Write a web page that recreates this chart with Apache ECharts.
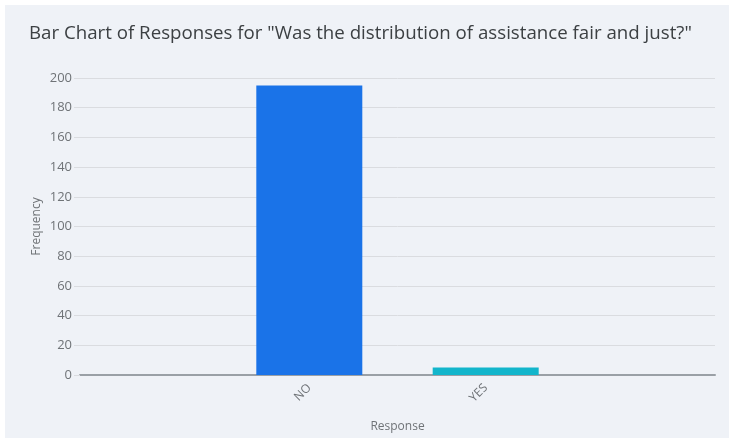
<!DOCTYPE html>
<html>
<head>
<meta charset="utf-8">
<script src="https://cdn.jsdelivr.net/npm/echarts@6/dist/echarts.min.js"></script>
<style>
  html, body { margin: 0; padding: 0; background: #ffffff; }
  #chart { position: absolute; left: 5px; top: 5px; width: 724px; height: 433px; }
</style>
</head>
<body>
<div id="chart"></div>
<script>
// Survey answers and their counts
const categories = ['NO', 'YES'];
const counts = [195, 5];
const barColors = ['#1a73e8', '#12b5cb'];
const yTicks = [0, 20, 40, 60, 80, 100, 120, 140, 160, 180, 200];

// Each answer sits at an integer slot on the horizontal scale (1, 2, ...)
const positions = categories.map((_, i) => i + 1);

const chart = echarts.init(document.getElementById('chart'));
const font = 'Open Sans';
const textColor = '#6f7377';

chart.setOption({
  backgroundColor: '#eff2f7',
  animation: false,
  title: {
    text: 'Bar Chart of Responses for "Was the distribution of assistance fair and just?"',
    left: 19,
    top: 14,
    textStyle: { fontFamily: font, fontSize: 18.7, fontWeight: 'normal', color: '#3c4043' }
  },
  grid: { left: 75, right: 14, top: 73, bottom: 58 },
  xAxis: {
    type: 'value',
    min: -0.3,
    max: positions.length + 1.3,
    name: 'Response',
    nameLocation: 'middle',
    nameGap: 46,
    nameTextStyle: { fontFamily: font, fontSize: 12, color: textColor },
    splitLine: { show: false },
    axisTick: { show: false },
    axisLine: { show: true, onZero: false, lineStyle: { color: '#9aa0a6', width: 2 } },
    axisLabel: {
      customValues: positions,
      rotate: 45,
      margin: 11,
      fontFamily: font,
      fontSize: 12,
      color: textColor,
      formatter: v => categories[Math.round(v) - 1] || ''
    }
  },
  yAxis: {
    type: 'value',
    min: yTicks[0],
    max: yTicks[yTicks.length - 1],
    interval: yTicks[1] - yTicks[0],
    name: 'Frequency',
    nameLocation: 'middle',
    nameGap: 37,
    nameMoveOverlap: false,
    nameTextStyle: { fontFamily: font, fontSize: 12, color: textColor },
    axisLine: { show: false, onZero: false },
    axisTick: { show: true, length: 6, lineStyle: { color: '#dadce0' } },
    axisLabel: { margin: 8, fontFamily: font, fontSize: 13, color: textColor },
    splitLine: { lineStyle: { color: '#dadce0', width: 1 } }
  },
  series: [{
    type: 'bar',
    barWidth: 106,
    data: positions.map((p, i) => ({
      value: [p, counts[i]],
      itemStyle: { color: barColors[i] }
    }))
  }]
});
</script>
</body>
</html>
